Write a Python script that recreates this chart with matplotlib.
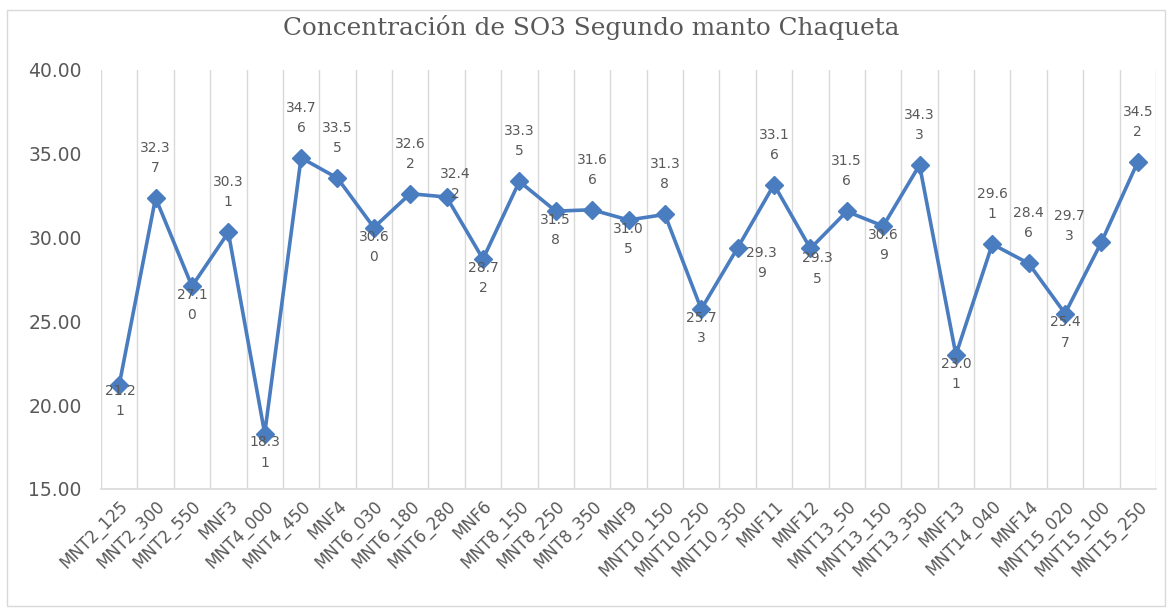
import matplotlib.pyplot as plt
from matplotlib.patches import Rectangle

muestras = ["MNT2_125", "MNT2_300", "MNT2_550", "MNF3", "MNT4_000", "MNT4_450",
            "MNF4", "MNT6_030", "MNT6_180", "MNT6_280", "MNF6", "MNT8_150",
            "MNT8_250", "MNT8_350", "MNF9", "MNT10_150", "MNT10_250", "MNT10_350",
            "MNF11", "MNF12", "MNT13_50", "MNT13_150", "MNT13_350", "MNF13",
            "MNT14_040", "MNF14", "MNT15_020", "MNT15_100", "MNT15_250"]
so3 = [21.21, 32.37, 27.10, 30.31, 18.31, 34.76,
       33.55, 30.60, 32.62, 32.42, 28.72, 33.35,
       31.58, 31.66, 31.05, 31.38, 25.73, 29.39,
       33.16, 29.35, 31.56, 30.69, 34.33, 23.01,
       29.61, 28.46, 25.47, 29.73, 34.52]
y_ticks = [15, 20, 25, 30, 35, 40]

# where each value label goes: 'a' above, 'b' below
lado = ['b', 'a', 'b', 'a', 'b', 'a', 'a', 'b', 'a', 'a', 'b', 'a', 'b', 'a', 'b',
        'a', 'b', 'b', 'a', 'b', 'a', 'b', 'a', 'b', 'a', 'a', 'b', 'a', 'a']
# a few labels nudged by hand (dx, dy in pixels, y downwards)
ajuste = {0: (1, 16), 9: (9, -13), 17: (24, 15), 19: (7, 20), 27: (-32, -16)}

azul = '#4A7CC0'
gris = '#595959'

fig = plt.figure(figsize=(11.71, 6.12), dpi=100)
ax = fig.add_axes([101 / 1171, 1 - 489 / 612, 1055 / 1171, 419 / 612])

x = list(range(len(muestras)))
ax.plot(x, so3, color=azul, lw=2.6, marker='D', markersize=9, zorder=3)

for i, v in enumerate(so3):
    txt = f"{v:.2f}"
    txt = txt[:4] + "\n" + txt[4:]
    dx, dy = ajuste.get(i, (0, -40 if lado[i] == 'a' else 19))
    ax.annotate(txt, (i, v), xytext=(dx * 0.72, -dy * 0.72), textcoords='offset points',
                ha='center', va='center', fontsize=10, color=gris,
                linespacing=1.55, zorder=4)

# vertical grid between categories
for b in range(len(muestras) + 1):
    ax.axvline(b - 0.5, color='#D9D9D9', lw=1, zorder=1)

ax.set_xlim(-0.5, len(muestras) - 0.5)
ax.set_ylim(15, 40)
ax.set_yticks(y_ticks)
ax.set_yticklabels([f"{t:.2f}" for t in y_ticks])
ax.set_xticks(x)
ax.set_xticklabels(muestras, rotation=45, ha='right', va='top', rotation_mode='anchor')

ax.tick_params(axis='y', length=0, pad=14, labelsize=13.5, labelcolor=gris)
ax.tick_params(axis='x', length=0, pad=6, labelsize=12, labelcolor=gris)

for s in ['top', 'right', 'left']:
    ax.spines[s].set_visible(False)
ax.spines['bottom'].set_color('#D9D9D9')
ax.spines['bottom'].set_linewidth(1.2)

fig.text(591 / 1171, 1 - 28 / 612, "Concentración de SO3 Segundo manto Chaqueta",
         ha='center', va='center', fontsize=17.8, family='DejaVu Serif', color=gris)

# chart area border
fig.patches.append(Rectangle((7 / 1171, 1 - 606 / 612), 1158 / 1171, 596 / 612,
                             transform=fig.transFigure, fill=False,
                             edgecolor='#D9D9D9', lw=1))

fig.savefig('out.png', dpi=100)
